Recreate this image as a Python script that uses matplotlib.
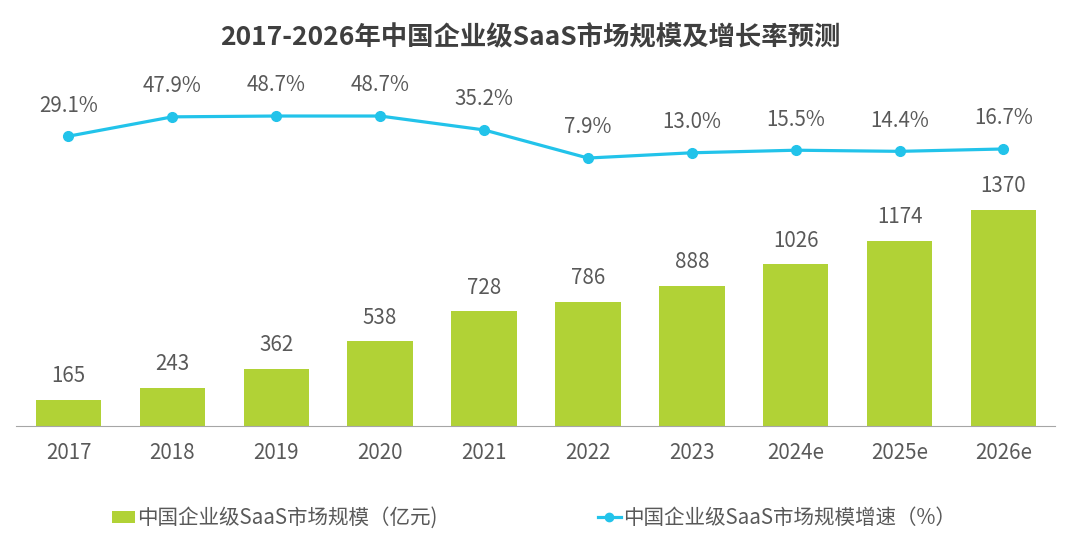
import matplotlib
matplotlib.use("Agg")
import matplotlib.pyplot as plt
from matplotlib.patches import Patch
from matplotlib.lines import Line2D

plt.rcParams['font.family'] = ['Noto Sans CJK SC', 'DejaVu Sans']

# data
years = ['2017', '2018', '2019', '2020', '2021', '2022', '2023', '2024e', '2025e', '2026e']
market = [165, 243, 362, 538, 728, 786, 888, 1026, 1174, 1370]
growth = [29.1, 47.9, 48.7, 48.7, 35.2, 7.9, 13.0, 15.5, 14.4, 16.7]

bar_color = '#b1d236'
line_color = '#22c3ea'
text_color = '#595959'
fs = 14.8

W, H = 1080, 546
fig = plt.figure(figsize=(W / 100, H / 100), dpi=100)

# axes box in pixels: x 16..1055, y bottom 426, top 60
left, right, bottom, top = 16, 1055, 426, 60
ax = fig.add_axes([left / W, 1 - bottom / H, (right - left) / W, (bottom - top) / H])
ax2 = ax.twinx()

x = list(range(len(years)))
ax.bar(x, market, width=0.63, color=bar_color, zorder=2)
ax.set_xlim(-0.505, 9.496)
ax.set_ylim(0, 2321)
for xi, v in zip(x, market):
    ax.annotate(str(v), (xi, v), xytext=(0, 17), textcoords='offset points',
                ha='center', va='center', fontsize=fs, color=text_color)

ax2.plot(x, growth, color=line_color, lw=2.3, marker='o', markersize=7, zorder=3)
ax2.set_ylim(-252.3, 103.1)
for xi, v in zip(x, growth):
    ax2.annotate(f'{v:.1f}%', (xi, v), xytext=(0, 22), textcoords='offset points',
                 ha='center', va='center', fontsize=fs, color=text_color)

for a in (ax, ax2):
    for s in ('top', 'right', 'left'):
        a.spines[s].set_visible(False)
    a.set_yticks([])
ax.spines['bottom'].set_color('#a6a6a6')
ax2.spines['bottom'].set_visible(False)
ax.set_xticks(x)
ax.set_xticklabels(years, fontsize=fs, color=text_color)
ax.tick_params(axis='x', length=0, pad=11.5)

fig.text(530 / W, 1 - 38 / H, '2017-2026年中国企业级SaaS市场规模及增长率预测',
         ha='center', va='center', fontsize=19, fontweight='bold', color='#3f3f3f')

# legends
h1 = Patch(facecolor=bar_color, edgecolor='none')
h2 = Line2D([], [], color=line_color, lw=2.3, marker='o', markersize=6)
for h, lab, px in ((h1, '中国企业级SaaS市场规模（亿元)', 112),
                   (h2, '中国企业级SaaS市场规模增速（%）', 598)):
    fig.legend([h], [lab], loc='center left', bbox_to_anchor=(px / W, 1 - 518 / H),
               frameon=False, fontsize=fs, labelcolor=text_color,
               borderpad=0, borderaxespad=0, handlelength=1.1, handletextpad=0.1,
               handleheight=0.5)

fig.savefig('out.png', dpi=100)
